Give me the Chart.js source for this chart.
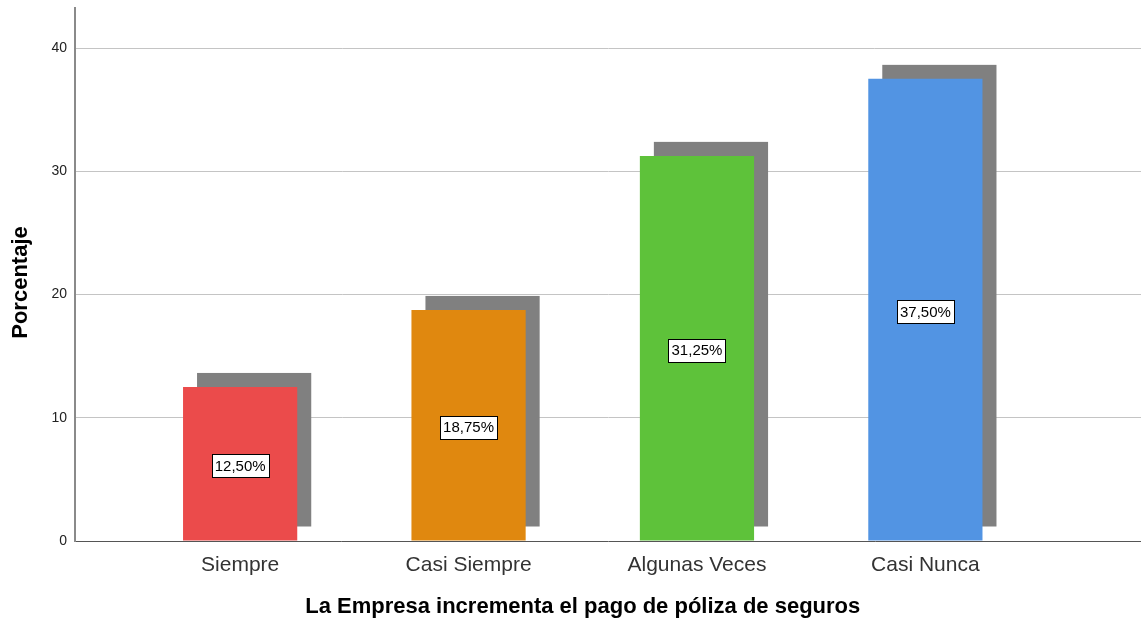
<!DOCTYPE html>
<html>
<head>
<meta charset="utf-8">
<script src="https://cdn.jsdelivr.net/npm/chart.js@4/dist/chart.umd.min.js"></script>
<style>
  html, body { margin: 0; padding: 0; background: #fff; }
  canvas { display: block; }
</style>
</head>
<body>
<canvas id="c" width="1141" height="624"></canvas>
<script>
// Response categories and their share of answers (%)
const categories = ['Siempre', 'Casi Siempre', 'Algunas Veces', 'Casi Nunca'];
const percentages = [12.5, 18.75, 31.25, 37.5];
const barColors = ['#EB4B4B', '#E0880F', '#5EC23A', '#5294E3'];
const yTickValues = [0, 10, 20, 30, 40];
const xTitle = 'La Empresa incrementa el pago de póliza de seguros';
const yTitle = 'Porcentaje';

const FONT = 'Arial, "Liberation Sans", sans-serif';
const SHADOW_OFFSET = 14;

// Grey drop shadow behind each bar, offset up and to the right
const barShadow = {
  id: 'barShadow',
  beforeDatasetsDraw(chart) {
    const ctx = chart.ctx;
    ctx.save();
    ctx.fillStyle = '#808080';
    chart.getDatasetMeta(0).data.forEach(el => {
      const { x, y, base, width } = el.getProps(['x', 'y', 'base', 'width'], true);
      ctx.fillRect(x - width / 2 + SHADOW_OFFSET, y - SHADOW_OFFSET, width, base - y);
    });
    ctx.restore();
  }
};

// Boxed percentage label in the middle of each bar
const valueLabels = {
  id: 'valueLabels',
  afterDatasetsDraw(chart) {
    const ctx = chart.ctx;
    const ds = chart.data.datasets[0];
    ctx.save();
    ctx.font = '15px ' + FONT;
    ctx.textAlign = 'center';
    ctx.textBaseline = 'middle';
    chart.getDatasetMeta(0).data.forEach((el, i) => {
      const { x, y, base } = el.getProps(['x', 'y', 'base'], true);
      const text = ds.data[i].y.toFixed(2).replace('.', ',') + '%';
      const w = Math.round(ctx.measureText(text).width + 6);
      const h = 23;
      const cy = (y + base) / 2 + 2;
      const bx = Math.round(x - w / 2) + 0.5;
      const by = Math.round(cy - h / 2) + 0.5;
      ctx.fillStyle = '#fff';
      ctx.fillRect(bx, by, w, h);
      ctx.strokeStyle = '#000';
      ctx.lineWidth = 1;
      ctx.strokeRect(bx, by, w, h);
      ctx.fillStyle = '#000';
      ctx.fillText(text, x, cy + 1);
    });
    ctx.restore();
  }
};

// Axis titles: x title centred under the category span, y title rotated
const axisTitles = {
  id: 'axisTitles',
  afterDraw(chart) {
    const ctx = chart.ctx;
    const area = chart.chartArea;
    const xs = chart.scales.x;
    ctx.save();
    ctx.fillStyle = '#000';
    ctx.font = 'bold 22px ' + FONT;
    ctx.textAlign = 'center';
    ctx.textBaseline = 'middle';
    ctx.fillText(xTitle, xs.getPixelForValue((1 + categories.length) / 2), area.bottom + 66);
    ctx.translate(21, (area.top + area.bottom) / 2 + 8);
    ctx.rotate(-Math.PI / 2);
    ctx.fillText(yTitle, 0, 0);
    ctx.restore();
  }
};

new Chart(document.getElementById('c'), {
  type: 'bar',
  data: {
    datasets: [{
      data: percentages.map((v, i) => ({ x: i + 1, y: v })),
      backgroundColor: barColors,
      borderWidth: 0,
      categoryPercentage: 1,
      barPercentage: 0.5
    }]
  },
  options: {
    responsive: false,
    animation: false,
    devicePixelRatio: 1,
    layout: { padding: { top: 8, left: 0, right: 0, bottom: 0 } },
    plugins: { legend: { display: false }, tooltip: { enabled: false } },
    scales: {
      x: {
        type: 'linear',
        offset: false,
        min: 0.277,
        max: 4.944,
        afterBuildTicks: s => { s.ticks = categories.map((_, i) => ({ value: i + 1 })); },
        afterFit: s => { s.height = 83; s.paddingLeft = 0; s.paddingRight = 0; },
        grid: { display: false, drawTicks: false, offset: false },
        border: { display: true, color: '#555', width: 1 },
        ticks: {
          callback: (v, i) => categories[i],
          font: { family: FONT, size: 21 },
          color: '#333',
          padding: 12,
          maxRotation: 0,
          autoSkip: false
        }
      },
      y: {
        min: 0,
        max: 43.25,
        afterBuildTicks: s => { s.ticks = yTickValues.map(v => ({ value: v })); },
        afterFit: s => { s.width = 75; s.paddingTop = 0; s.paddingBottom = 0; },
        grid: {
          color: ctx => (ctx.tick && ctx.tick.value === 0 ? 'rgba(0,0,0,0)' : '#c4c4c4'),
          lineWidth: 1,
          drawTicks: false
        },
        border: { display: true, color: '#8a8a8a', width: 2 },
        ticks: { font: { family: FONT, size: 14 }, color: '#222', padding: 8 }
      }
    }
  },
  plugins: [barShadow, valueLabels, axisTitles]
});
</script>
</body>
</html>
